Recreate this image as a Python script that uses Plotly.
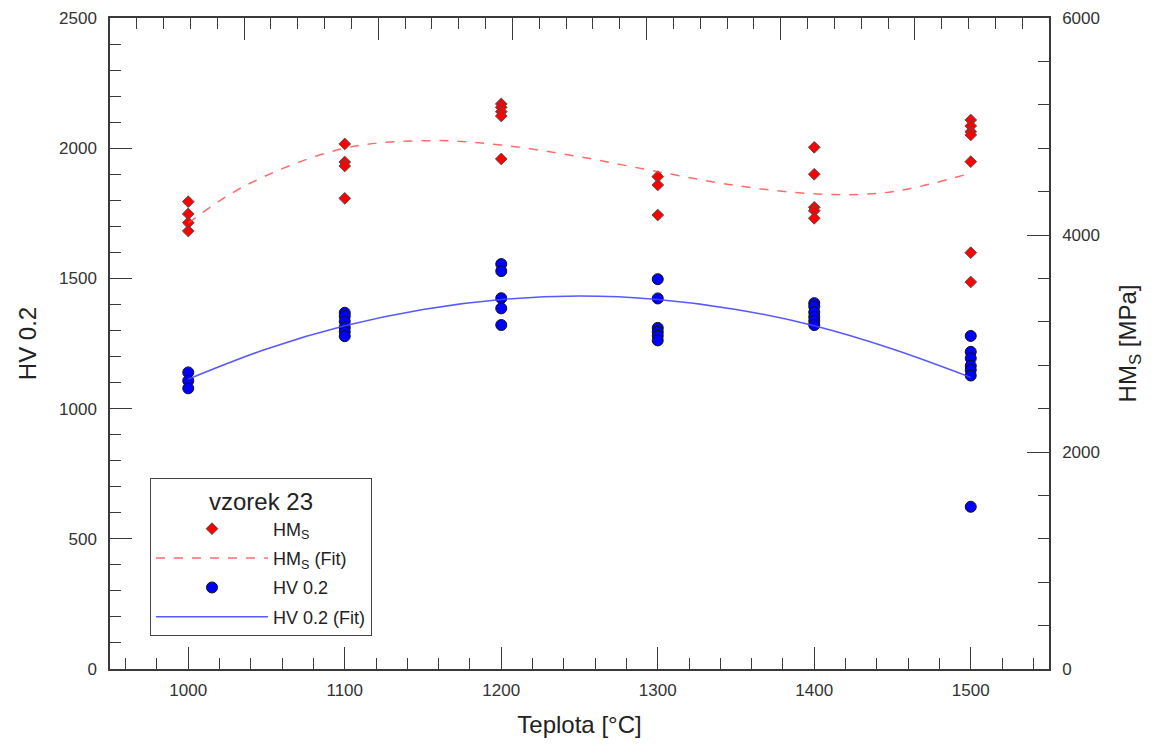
import plotly.graph_objects as go

# ---------------- data ----------------
hms_x = [1000, 1000, 1000, 1000,
         1100, 1100, 1100, 1100,
         1200, 1200, 1200, 1200, 1200,
         1300, 1300, 1300,
         1400, 1400, 1400, 1400, 1400,
         1500, 1500, 1500, 1500, 1500, 1500, 1500]
hms_y = [4307, 4194, 4113, 4037,
         4839, 4673, 4636, 4338,
         5208, 5177, 5137, 5097, 4701,
         4538, 4461, 4184,
         4808, 4560, 4255, 4224, 4154,
         5060, 5005, 4952, 4922, 4676, 3837, 3567]

hv_x = [1000, 1000, 1000,
        1100, 1100, 1100, 1100, 1100, 1100,
        1200, 1200, 1200, 1200, 1200,
        1300, 1300, 1300, 1300, 1300, 1300,
        1400, 1400, 1400, 1400, 1400, 1400,
        1500, 1500, 1500, 1500, 1500, 1500, 1500]
hv_y = [1139, 1107, 1078,
        1368, 1355, 1335, 1312, 1295, 1278,
        1555, 1528, 1424, 1385, 1321,
        1497, 1423, 1310, 1295, 1280, 1262,
        1405, 1392, 1370, 1352, 1336, 1321,
        1279, 1218, 1193, 1164, 1148, 1127, 623]

# fit curves
hms_fit_x = [1000, 1037, 1100, 1157, 1200, 1250, 1300, 1352, 1406, 1450, 1500]
hms_fit_y = [4109, 4459, 4800, 4870, 4829, 4721, 4584, 4452, 4375, 4399, 4570]

hv_fit_x = [1000, 1050, 1100, 1150, 1200, 1250, 1300, 1350, 1400, 1450, 1500]
hv_fit_y = [1113, 1229, 1318, 1381, 1419, 1432, 1419, 1381, 1318, 1229, 1120]

legend_title = "vzorek 23"
x_title = "Teplota [°C]"
y_title = "HV 0.2"
y2_title = "HM<sub>S</sub> [MPa]"

FONT = "Liberation Sans, Arial, sans-serif"
AX = "#3a3a3a"
TICKFONT = dict(size=17, color="#333")

fig = go.Figure()

fig.add_trace(go.Scatter(
    x=hms_x, y=hms_y, yaxis="y2", mode="markers", name="HM<sub>S</sub>",
    legendgroup="a",
    marker=dict(symbol="diamond", size=9, color="#ff0000",
                line=dict(color="#505050", width=1))))
fig.add_trace(go.Scatter(
    x=hms_fit_x, y=hms_fit_y, yaxis="y2", mode="lines", name="HM<sub>S</sub> (Fit)",
    legendgroup="b",
    line=dict(color="rgba(255,70,70,0.8)", width=1.5, dash="dash", shape="spline")))
fig.add_trace(go.Scatter(
    x=hv_x, y=hv_y, mode="markers", name="HV 0.2",
    legendgroup="c",
    marker=dict(symbol="circle", size=11, color="#0000ff",
                line=dict(color="#111111", width=1))))
fig.add_trace(go.Scatter(
    x=hv_fit_x, y=hv_fit_y, mode="lines", name="HV 0.2 (Fit)",
    legendgroup="d",
    line=dict(color="rgba(70,70,255,0.9)", width=1.5, shape="spline")))

fig.update_layout(
    width=1137, height=730,
    margin=dict(l=102, r=96, t=10, b=69, autoexpand=False),
    paper_bgcolor="white", plot_bgcolor="white",
    font=dict(family=FONT, color="#222"),
    xaxis=dict(
        range=[950, 1550], tickvals=[1000, 1100, 1200, 1300, 1400, 1500],
        automargin=False, ticklabelstandoff=5,
        ticks="inside", ticklen=22, tickcolor=AX, tickwidth=1,
        minor=dict(dtick=20, ticks="inside", ticklen=11, tickcolor=AX, tickwidth=1),
        showline=True, linecolor=AX, linewidth=1.5, showgrid=False, zeroline=False,
        tickfont=TICKFONT,
        title=dict(text=x_title, font=dict(size=24, color="#222"), standoff=25)),
    xaxis2=dict(
        overlaying="x", side="top", range=[0, 7], dtick=1, automargin=False,
        ticks="inside", ticklen=22, tickcolor=AX, tickwidth=1,
        minor=dict(dtick=0.2, ticks="inside", ticklen=11, tickcolor=AX, tickwidth=1),
        showticklabels=False, showline=True, linecolor=AX, linewidth=1.5,
        showgrid=False, zeroline=False),
    yaxis=dict(
        range=[0, 2500], dtick=500, automargin=False, ticklabelstandoff=8,
        ticks="inside", ticklen=22, tickcolor=AX, tickwidth=1,
        minor=dict(dtick=100, ticks="inside", ticklen=11, tickcolor=AX, tickwidth=1),
        showline=True, linecolor=AX, linewidth=1.5, showgrid=False, zeroline=False,
        tickfont=TICKFONT,
        title=dict(text=y_title, font=dict(size=24, color="#222"), standoff=16)),
    yaxis2=dict(
        overlaying="y", side="right", range=[0, 6000], dtick=2000, automargin=False,
        ticklabelstandoff=8,
        ticks="inside", ticklen=22, tickcolor=AX, tickwidth=1,
        minor=dict(dtick=400, ticks="inside", ticklen=11, tickcolor=AX, tickwidth=1),
        showline=True, linecolor=AX, linewidth=1.5, showgrid=False, zeroline=False,
        tickfont=TICKFONT,
        title=dict(text=y2_title, font=dict(size=24, color="#222"), standoff=43)),
    legend=dict(
        x=0.0426, y=0.293, xanchor="left", yanchor="top",
        bgcolor="white", bordercolor="#444", borderwidth=1,
        itemwidth=112, font=dict(size=18, color="#222"),
        traceorder="grouped", tracegroupgap=3,
        title=dict(text=legend_title, side="top center", font=dict(size=24, color="#222"))),
    showlegend=True,
)

# dummy invisible trace so the top axis is drawn
fig.add_trace(go.Scatter(x=[0], y=[0], xaxis="x2", yaxis="y", mode="markers",
                         marker=dict(opacity=0), showlegend=False, hoverinfo="skip"))

fig.write_html("out.html")
